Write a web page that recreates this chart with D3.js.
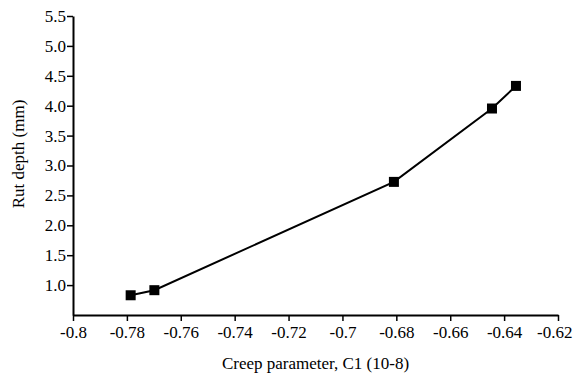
<!DOCTYPE html>
<html>
<head>
<meta charset="utf-8">
<script src="https://cdn.jsdelivr.net/npm/d3@7"></script>
<style>
  body { margin: 0; background: #fff; }
  svg text { font-family: "Times New Roman", Times, "Liberation Serif", "DejaVu Serif", serif !important; fill: #000; }
</style>
</head>
<body>
<div id="chart"></div>
<script>
// Data
const creep = [-0.7786, -0.7698, -0.6809, -0.6445, -0.6356];
const rut = [0.83, 0.915, 2.726, 3.953, 4.331];
const xTicks = [-0.8, -0.78, -0.76, -0.74, -0.72, -0.7, -0.68, -0.66, -0.64, -0.62];
const yTicks = [1.0, 1.5, 2.0, 2.5, 3.0, 3.5, 4.0, 4.5, 5.0, 5.5];

const width = 573, height = 377;
const margin = { left: 73, right: 15, top: 16, bottom: 62 };
const serif = '"Times New Roman", "Liberation Serif", serif';

const svg = d3.select('#chart').append('svg')
  .attr('width', width)
  .attr('height', height);

const x = d3.scaleLinear()
  .domain([-0.8, -0.62])
  .range([margin.left, width - margin.right]);

const y = d3.scaleLinear()
  .domain([0.5, 5.5])
  .range([height - margin.bottom, margin.top]);

// x axis
const xAxis = svg.append('g')
  .attr('transform', 'translate(0,' + (height - margin.bottom) + ')')
  .call(d3.axisBottom(x).tickValues(xTicks).tickSize(6).tickSizeOuter(0)
    .tickFormat(d => String(+d.toFixed(2))));
xAxis.attr('font-family', serif);
xAxis.select('.domain').attr('stroke-width', 2);
xAxis.selectAll('.tick line').attr('stroke-width', 1.5);
xAxis.selectAll('.tick text').attr('font-size', 17).attr('dy', '0.8em');
// keep the last label inside the window
xAxis.selectAll('.tick text').filter(d => d === -0.62).attr('text-anchor', 'end').attr('x', 14);

// y axis
const yAxis = svg.append('g')
  .attr('transform', 'translate(' + margin.left + ',0)')
  .call(d3.axisLeft(y).tickValues(yTicks).tickSize(6).tickSizeOuter(0)
    .tickFormat(d3.format('.1f')));
yAxis.attr('font-family', serif);
yAxis.select('.domain').attr('stroke-width', 2);
yAxis.selectAll('.tick line').attr('stroke-width', 1.5);
yAxis.selectAll('.tick text').attr('font-size', 17).attr('x', -7);

// line
const pts = creep.map((c, i) => [c, rut[i]]);
svg.append('path')
  .datum(pts)
  .attr('fill', 'none')
  .attr('stroke', '#000')
  .attr('stroke-width', 2)
  .attr('d', d3.line().x(d => x(d[0])).y(d => y(d[1])));

// square markers
const s = 10;
svg.selectAll('.pt')
  .data(pts)
  .enter()
  .append('rect')
    .attr('class', 'pt')
    .attr('x', d => x(d[0]) - s / 2)
    .attr('y', d => y(d[1]) - s / 2)
    .attr('width', s)
    .attr('height', s)
    .attr('fill', '#000');

// axis titles
svg.append('text')
  .attr('x', (margin.left + width - margin.right) / 2)
  .attr('y', 369)
  .attr('text-anchor', 'middle')
  .attr('font-size', 17)
  .attr('font-family', serif)
  .text('Creep parameter, C1 (10-8)');

svg.append('text')
  .attr('transform', 'translate(24,' + 154 + ') rotate(-90)')
  .attr('text-anchor', 'middle')
  .attr('font-size', 17)
  .attr('font-family', serif)
  .text('Rut depth (mm)');
</script>
</body>
</html>
